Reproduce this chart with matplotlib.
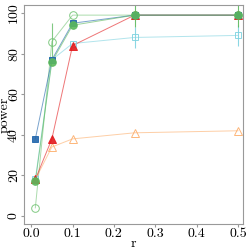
import matplotlib
matplotlib.use("Agg")
import matplotlib.pyplot as plt

plt.rcParams['font.family'] = ['cmr10', 'DejaVu Serif']
plt.rcParams['axes.formatter.use_mathtext'] = True

r = [0.01, 0.05, 0.1, 0.25, 0.5]

blue_sq = [38, 77, 95, 99, 99]
green_dot = [17, 76, 94, 99, 99]
green_open = [4, 86, 99, 99, 99]
red_tri = [18, 38, 84, 99, 99]
cyan_sq = [18, 77, 85, 88, 89]
orange_tri = [18, 34, 38, 41, 42]

green_dot_err = [0, 0, 0, 6, 6]
green_open_err = [0, 9, 0, 0, 0]
cyan_err = [0, 0, 0, 5, 5]

fig, ax = plt.subplots(figsize=(2.49, 2.49), dpi=100)

# draw each series: faint connecting line, then markers on top
series = [
    (orange_tri, None, '#fdae6b', '^', 'none', 6),
    (cyan_sq, cyan_err, '#7fd3e0', 's', 'none', 5),
    (green_open, green_open_err, '#74c476', 'o', 'none', 5.5),
    (red_tri, None, '#e31a1c', '^', '#e31a1c', 6),
    (blue_sq, None, '#2166ac', 's', '#2166ac', 5),
    (green_dot, green_dot_err, '#5cb85c', 'o', '#5cb85c', 5.5),
]
for vals, err, col, mk, fc, ms in series:
    ax.plot(r, vals, color=col, lw=0.7, alpha=0.6)
    ax.errorbar(r, vals, yerr=err, color=col, marker=mk, mfc=fc, ms=ms,
                ls='none', mew=0.7, elinewidth=0.8, alpha=0.9)

ax.set_xlim(-0.017, 0.512)
ax.set_ylim(-4, 104)
ax.set_xticks([0.0, 0.1, 0.2, 0.3, 0.4, 0.5])
ax.set_yticks([0, 20, 40, 60, 80, 100])
ax.set_xticklabels(['0.0', '0.1', '0.2', '0.3', '0.4', '0.5'])
ax.set_yticklabels(['0', '20', '40', '60', '80', '100'], rotation=90, va='center')
ax.tick_params(labelsize=10, length=2, color='#999999', pad=1)
for s in ax.spines.values():
    s.set_color('#999999')
ax.set_xlabel('r', fontsize=10, labelpad=-2)
ax.set_ylabel('power', fontsize=10, labelpad=-2)

fig.subplots_adjust(left=0.097, right=0.976, bottom=0.1, top=0.98)
fig.savefig('out.png', dpi=100)
